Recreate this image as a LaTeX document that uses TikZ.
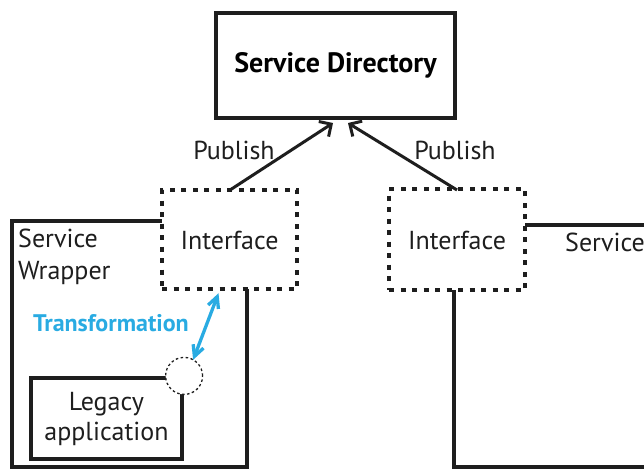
\documentclass[tikz,border=0pt]{standalone}
\usepackage{fontspec}
\setmainfont{PT Sans}
\usetikzlibrary{arrows.meta,calc}
\definecolor{trcyan}{RGB}{41,171,226}
\definecolor{ink}{RGB}{30,30,30}
\tikzset{
  solidbox/.style={draw=ink,line width=4.2pt,rectangle,inner sep=0pt},
  ifacebox/.style={draw=ink,line width=4.5pt,rectangle,inner sep=0pt,
    dash pattern=on 5pt off 6.5pt,fill=white},
  label/.style={text=ink,font=\fontsize{26}{32}\selectfont,inner sep=0pt},
  publink/.style={draw=ink,line width=3pt,-{Straight Barb[length=9pt,width=18pt]}},
  wrapline/.style={draw=ink,line width=4.2pt},
  trtip/.tip={Straight Barb[length=11pt,width=11pt]},
}
\begin{document}
\begin{tikzpicture}[x=1pt,y=-1pt]
\useasboundingbox (0,0) rectangle (644,471);
\clip (0,0) rectangle (644,471);

% service directory
\node[solidbox,minimum width=239pt,minimum height=105pt,
  font=\fontsize{28}{32}\selectfont\bfseries] (dir) at (335.5,65.5) {Service Directory};

% wrapper outlines (drawn first, the interface boxes sit on top)
\draw[wrapline] (247,289) -- (247,467) -- (12,467) -- (12,221) -- (165,221);
\draw[wrapline] (454,289) -- (454,467) -- (650,467);
\draw[wrapline] (523,225) -- (650,225);

% interfaces
\node[ifacebox,minimum width=135pt,minimum height=99pt] (ifl) at (229.5,239.5) {};
\node[label] at (229.5,240) {Interface};
\node[ifacebox,minimum width=136pt,minimum height=101pt] (ifr) at (457,239.5) {};
\node[label] at (457,240) {Interface};

% wrapper captions
\node[label,anchor=west,align=left] (wrap) at (18,257) {Service\\Wrapper};
\node[label,anchor=west] (svc) at (565,242) {Service};

% publish links
\coordinate (pl) at (230,190);
\coordinate (pr) at (457,190);
\draw[publink] (pl) -- (333,123);
\draw[publink] (pr) -- (348,123);
\node[label] at (234,150) {Publish};
\node[label] at (455,150) {Publish};

% legacy application with its adapter port
\node[solidbox,minimum width=151pt,minimum height=81pt,align=center,
  text=ink,font=\fontsize{26}{30}\selectfont] (legacy) at (106.5,418.5) {Legacy\\application};
\node[circle,draw=ink,fill=white,line width=1.3pt,dash pattern=on 2.5pt off 2.5pt,
  minimum size=37pt,inner sep=0pt] (port) at (legacy.north east) {};

% transformation link
\draw[draw=trcyan,line width=3.3pt,trtip-trtip]
  ($(ifl.south)+(-11,2)$) -- ($(port.center)+(9,-16)$);
\node[text=trcyan,inner sep=0pt,font=\fontsize{24}{28}\selectfont\bfseries] (tr) at (111,323) {Transformation};
\end{tikzpicture}
\end{document}
